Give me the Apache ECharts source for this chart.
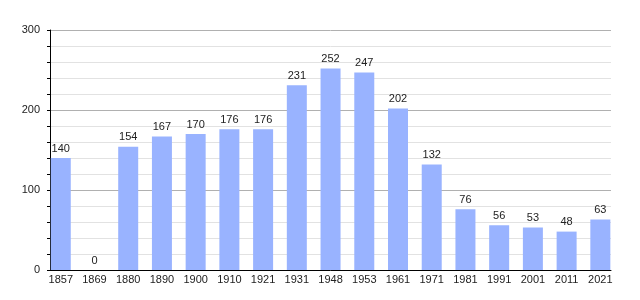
<!DOCTYPE html>
<html><head><meta charset="utf-8">
<script src="https://cdn.jsdelivr.net/npm/echarts@6/dist/echarts.min.js"></script>
<style>html,body{margin:0;padding:0;background:#fff}#c{width:640px;height:300px}</style>
</head><body><div id="c"></div>
<script>
const years = ['1857','1869','1880','1890','1900','1910','1921','1931','1948','1953','1961','1971','1981','1991','2001','2011','2021'];
const population = [140,0,154,167,170,176,176,231,252,247,202,132,76,56,53,48,63];
const yTicks = [0,100,200,300];

const font = 'Liberation Sans, Arial, sans-serif';
const chart = echarts.init(document.getElementById('c'), null, {renderer:'canvas'});
chart.setOption({
  animation:false,
  grid:[
    {left:50, right:29, top:30, bottom:30},
    {left:43.9, right:22.8, top:30, bottom:30}
  ],
  xAxis:[
    {gridIndex:0, type:'value', min:0, max:1, axisLabel:{show:false}, splitLine:{show:false}, axisTick:{show:false},
     axisLine:{show:true, lineStyle:{color:'#000', width:1}}, z:5},
    {gridIndex:1, type:'category', data:years, boundaryGap:true, axisLine:{show:false}, axisTick:{show:false},
     axisLabel:{margin:4, fontSize:11, color:'#222', fontFamily:font, interval:0}}
  ],
  yAxis:[
    {gridIndex:0, type:'value', min:yTicks[0], max:yTicks[yTicks.length-1], interval:100,
     axisLine:{show:true, lineStyle:{color:'#000', width:1}},
     axisTick:{show:true, length:3, lineStyle:{color:'#000'}},
     minorTick:{show:true, splitNumber:5, length:3, lineStyle:{color:'#000'}},
     splitLine:{show:true, lineStyle:{color:'#b0b0b0', width:1}},
     minorSplitLine:{show:true, lineStyle:{color:'#e2e2e2', width:1}},
     axisLabel:{margin:10, fontSize:11, color:'#222', fontFamily:font}, z:0},
    {gridIndex:1, type:'value', min:0, max:300, show:false, splitLine:{show:false}}
  ],
  series:[{
    type:'bar', xAxisIndex:1, yAxisIndex:1, data:population, barWidth:20, z:3,
    itemStyle:{color:'#99b3ff'},
    label:{show:true, position:'top', distance:4, fontSize:11, color:'#222', fontFamily:font}
  }]
});
</script></body></html>
